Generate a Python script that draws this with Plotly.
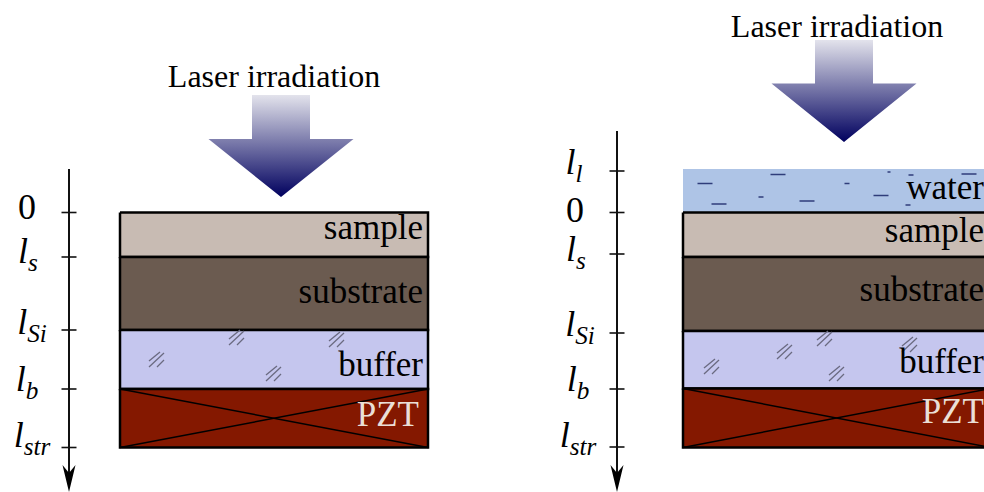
import plotly.graph_objects as go

SERIF = "Liberation Serif"

# Left panel
L_DEPTHS = [212.5, 257, 330, 389, 447.5]
L_COLORS = ["#c8bbb3", "#6b5b50", "#c5c6ee", "#841800"]
L_NAMES = ["sample", "substrate", "buffer", "PZT"]
L_NAME_Y = [230.5, 294.5, 367.5, 417]
L_TICKS = [212.5, 257, 330, 389, 447.5]
L_TICK_TEXT = ["0", "<i>l<sub>s</sub></i>", "<i>l<sub>Si</sub></i>", "<i>l<sub>b</sub></i>", "<i>l<sub>str</sub></i>"]
L_TICK_TEXT_X = [27, 28, 32, 27, 32]
L_TICK_TEXT_Y = [210, 254, 325, 382, 438]
L_HATCH = [(157, 360), (237, 338), (337, 340), (274, 374)]

# Right panel
R_DEPTHS = [212.5, 257, 331, 388.5, 447.5]
R_NAMES = ["sample", "substrate", "buffer", "PZT"]
R_NAME_Y = [233.5, 292.5, 364.5, 414]
R_TICKS = [171, 212.5, 254, 333, 389, 447]
R_TICK_TEXT = ["<i>l<sub>l</sub></i>", "0", "<i>l<sub>s</sub></i>", "<i>l<sub>Si</sub></i>", "<i>l<sub>b</sub></i>", "<i>l<sub>str</sub></i>"]
R_TICK_TEXT_X = [574, 575, 576, 580, 578, 578]
R_TICK_TEXT_Y = [165, 213, 252, 327, 382, 438]
R_HATCH = [(712, 367), (785, 352), (825, 339), (837, 374), (910, 345)]
WATER_TOP = 169
WATER_DASH_X = [705, 778, 719, 761, 807, 847, 881, 889, 911, 908, 969]
WATER_DASH_Y = [183.5, 174.5, 204, 197, 201, 183.5, 195.5, 172, 175, 205, 174]
WATER_DASH_LEN = [15, 15, 15, 5, 15, 5, 15, 3, 5, 5, 15]
HATCH_STROKES = [(-8, 1, 3, -8), (-8, 7, 7, -7), (0, 7, 7, 0)]

fig = go.Figure()


def line(xs, ys, color="#000000", width=1.5):
    fig.add_trace(go.Scatter(x=xs, y=ys, mode="lines", line=dict(color=color, width=width),
                             hoverinfo="skip", showlegend=False))


def poly(xs, ys, fill, width=0, color="#000000"):
    fig.add_trace(go.Scatter(x=xs, y=ys, mode="lines", fill="toself", fillcolor=fill,
                             line=dict(color=color, width=width), hoverinfo="skip", showlegend=False))


def text(xs, ys, labels, size, color="#000000", pos="middle left"):
    fig.add_trace(go.Scatter(x=xs, y=ys, mode="text", text=labels, textposition=pos,
                             textfont=dict(family=SERIF, size=size, color=color),
                             hoverinfo="skip", showlegend=False))


def beam(cx, top, neck, tip, half_shaft=29, half_head=72.5):
    xs = [cx - half_shaft, cx + half_shaft, cx + half_shaft, cx + half_head, cx, cx - half_head, cx - half_shaft, cx - half_shaft]
    ys = [top, top, neck, neck, tip, neck, neck, top]
    fig.add_trace(go.Scatter(
        x=xs, y=ys, mode="lines", fill="toself", line=dict(width=0, color="rgba(0,0,0,0)"),
        fillgradient=dict(type="vertical", colorscale=[[0, "#00005e"], [1, "#e3e3ec"]]),
        hoverinfo="skip", showlegend=False))


def stack(x0, x1, depths, names, name_y, name_x, pzt_x, ticks, tick_text, tx, ty, axis_x, axis_top, hatches):
    for i, c in enumerate(L_COLORS):
        poly([x0, x1, x1, x0, x0], [depths[i], depths[i], depths[i + 1], depths[i + 1], depths[i]], c, 2.5)
    # PZT cross
    line([x0, x1], [depths[3], depths[4]])
    line([x0, x1], [depths[4], depths[3]])
    for hx, hy in hatches:
        for a, b, c, d in HATCH_STROKES:
            line([hx + a, hx + c], [hy + b, hy + d], "#6a6a80", 1.3)
    text([name_x] * 3, name_y[:3], names[:3], 35)
    text([pzt_x], [name_y[3]], [names[3]], 35, "#eadfd6")
    # depth axis
    line([axis_x, axis_x], [axis_top, 482], "#111111", 2)
    for t in ticks:
        line([axis_x - 7.5, axis_x + 7.5], [t, t], "#111111", 1.6)
    poly([axis_x, axis_x - 6.5, axis_x, axis_x + 6.5, axis_x], [492, 465, 473, 465, 492], "#000000")
    text(tx, ty, tick_text, 36, pos="middle center")


# water goes under the stack
poly([683, 990, 990, 683, 683], [WATER_TOP, WATER_TOP, R_DEPTHS[0], R_DEPTHS[0], WATER_TOP], "#aec4e6")
for dx, dy, dl in zip(WATER_DASH_X, WATER_DASH_Y, WATER_DASH_LEN):
    line([dx - dl / 2, dx + dl / 2], [dy, dy], "#2f3d7a", 1.5)

stack(120, 428, L_DEPTHS, L_NAMES, L_NAME_Y, 423, 419, L_TICKS, L_TICK_TEXT, L_TICK_TEXT_X, L_TICK_TEXT_Y, 69, 169, L_HATCH)
stack(683, 990, R_DEPTHS, R_NAMES, R_NAME_Y, 984, 984, R_TICKS, R_TICK_TEXT, R_TICK_TEXT_X, R_TICK_TEXT_Y, 617, 131, R_HATCH)

text([984], [190.5], ["water"], 35)

beam(281, 95, 139, 197)
beam(844, 40, 83.5, 142)
text([274, 837], [79, 29], ["Laser irradiation", "Laser irradiation"], 32, pos="middle center")

fig.update_layout(
    width=984, height=492, margin=dict(l=0, r=0, t=0, b=0),
    paper_bgcolor="#ffffff", plot_bgcolor="#ffffff", showlegend=False,
    xaxis=dict(range=[0, 984], visible=False, fixedrange=True),
    yaxis=dict(range=[492, 0], visible=False, fixedrange=True),
)
fig.write_html("out.html", config={"displayModeBar": False},
               post_script="document.body.style.margin='0';document.documentElement.style.overflow='hidden';")
